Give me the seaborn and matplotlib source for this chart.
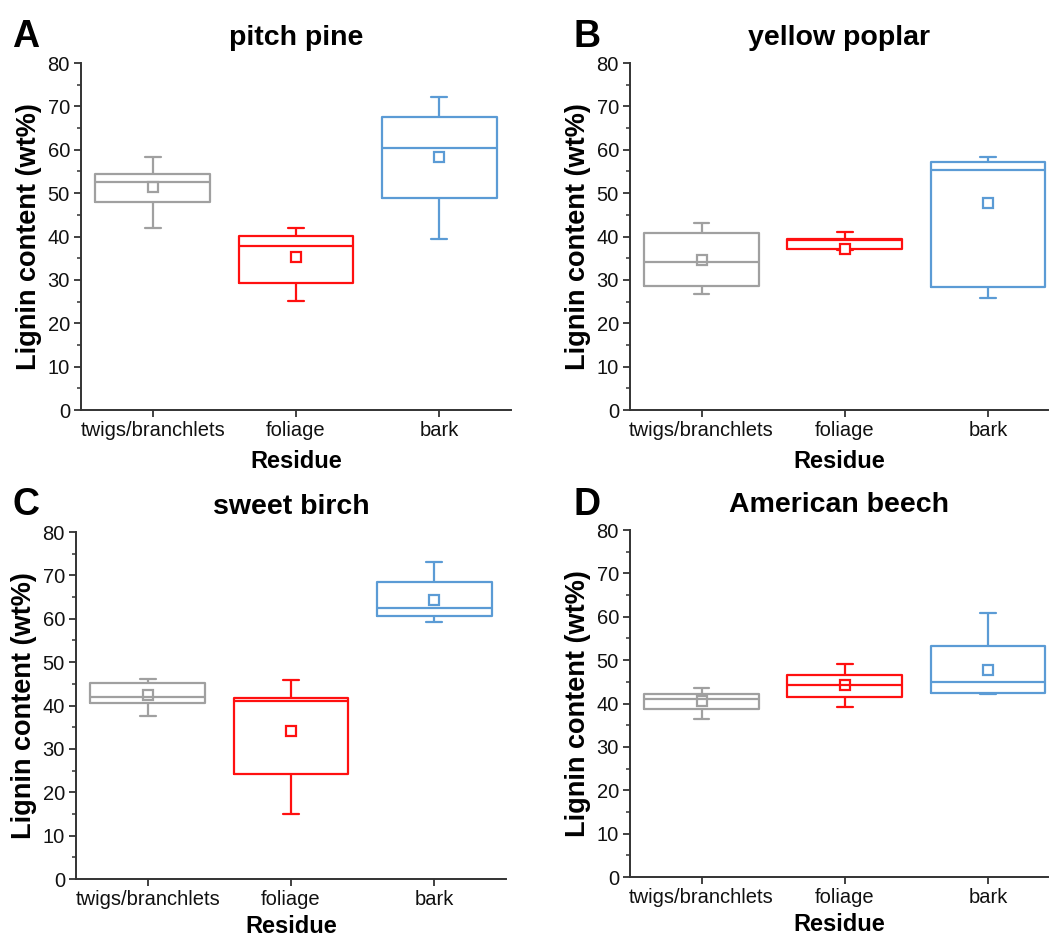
import numpy as np
import pandas as pd
import matplotlib.pyplot as plt
import seaborn as sns

sns.set_theme(style="ticks")
plt.rcParams['font.family'] = ['Liberation Sans', 'DejaVu Sans']
plt.rcParams['text.color'] = 'black'
plt.rcParams['axes.labelcolor'] = 'black'

residues = ["twigs/branchlets", "foliage", "bark"]
species = ["pitch pine", "yellow poplar", "sweet birch", "American beech"]
letters = ["A", "B", "C", "D"]

# five-number summaries: min, q1, median, q3, max
pitch_pine = {
    "twigs/branchlets": [42.0, 48.0, 52.5, 54.5, 58.3],
    "foliage": [25.2, 29.3, 37.7, 40.2, 42.0],
    "bark": [39.5, 48.8, 60.4, 67.5, 72.2],
}
yellow_poplar = {
    "twigs/branchlets": [26.8, 28.6, 34.2, 40.9, 43.1],
    "foliage": [37.0, 37.2, 39.1, 39.5, 41.1],
    "bark": [25.8, 28.3, 55.4, 57.1, 58.4],
}
sweet_birch = {
    "twigs/branchlets": [37.6, 40.5, 42.0, 45.2, 46.1],
    "foliage": [14.9, 24.3, 41.1, 41.8, 45.8],
    "bark": [59.2, 60.6, 62.5, 68.5, 73.0],
}
american_beech = {
    "twigs/branchlets": [36.4, 38.8, 41.0, 42.3, 43.6],
    "foliage": [39.2, 41.5, 44.2, 46.5, 49.2],
    "bark": [42.2, 42.5, 45.0, 53.2, 60.8],
}
summaries = [pitch_pine, yellow_poplar, sweet_birch, american_beech]

# mean markers
means = [
    [51.3, 35.2, 58.3],
    [34.6, 37.2, 47.8],
    [42.5, 34.2, 64.4],
    [40.5, 44.2, 47.8],
]

palette = {"twigs/branchlets": "#a0a0a0", "foliage": "#ff1010", "bark": "#5b9bd5"}

W, H = 1049, 938
fig = plt.figure(figsize=(W / 100, H / 100), dpi=100)

# axes boxes in pixels: left, top, right, bottom
boxes_px = [(81, 63, 511, 410), (630, 63, 1048, 410),
            (76, 532, 506, 879), (630, 530, 1048, 877)]
letter_px = [(12, 47), (573, 47), (12, 515), (573, 515)]

for i, (l, t, r, b) in enumerate(boxes_px):
    ax = fig.add_axes([l / W, 1 - b / H, (r - l) / W, (b - t) / H])
    summ = summaries[i]
    df = pd.DataFrame([(res, v) for res in residues for v in summ[res]],
                      columns=["Residue", "value"])
    sns.boxplot(data=df, x="Residue", y="value", hue="Residue", order=residues,
                hue_order=residues, palette=palette, fill=False, whis=(0, 100),
                width=0.8, linewidth=1.6, legend=False, ax=ax)
    # narrow caps like the original
    for ln in ax.lines:
        xd, yd = np.asarray(ln.get_xdata(), float), np.asarray(ln.get_ydata(), float)
        if len(xd) == 2 and yd[0] == yd[1] and 0 < abs(xd[1] - xd[0]) < 0.7:
            c = xd.mean()
            ln.set_xdata([c - 0.055, c + 0.055])
    mdf = pd.DataFrame({"Residue": residues, "mean": means[i]})
    sns.pointplot(data=mdf, x="Residue", y="mean", hue="Residue", order=residues,
                  hue_order=residues, palette=palette, markers="s", linestyle="none",
                  markersize=6.5, markeredgewidth=1.6, legend=False, ax=ax)
    for ln in ax.lines:
        if ln.get_marker() == "s":
            ln.set_markerfacecolor("white")

    ax.set_ylim(0, 80)
    ax.set_xlim(-0.5, 2.42 if l > 600 else 2.5)
    ax.set_yticks(range(0, 81, 10))
    ax.set_yticks(range(5, 80, 10), minor=True)
    ax.tick_params(axis="both", which="major", labelsize=14.5, length=5,
                   width=1.3, color="#333333", labelcolor="#111111", pad=3)
    ax.tick_params(axis="y", which="minor", length=3, width=1.1, color="#333333")
    for s in ["left", "bottom"]:
        ax.spines[s].set_linewidth(1.4)
        ax.spines[s].set_color("#333333")
    sns.despine(ax=ax)
    ax.set_xlabel("Residue", fontsize=17, fontweight="bold",
                  labelpad=7 if i < 2 else 4)
    ax.set_ylabel("Lignin content (wt%)", fontsize=19.5, fontweight="bold", labelpad=4)
    ax.set_title(species[i], fontsize=20.5, fontweight="bold", pad=13)
    lx, ly = letter_px[i]
    fig.text(lx / W, 1 - ly / H, letters[i], fontsize=27, fontweight="bold")

fig.savefig("out.png", dpi=100)
